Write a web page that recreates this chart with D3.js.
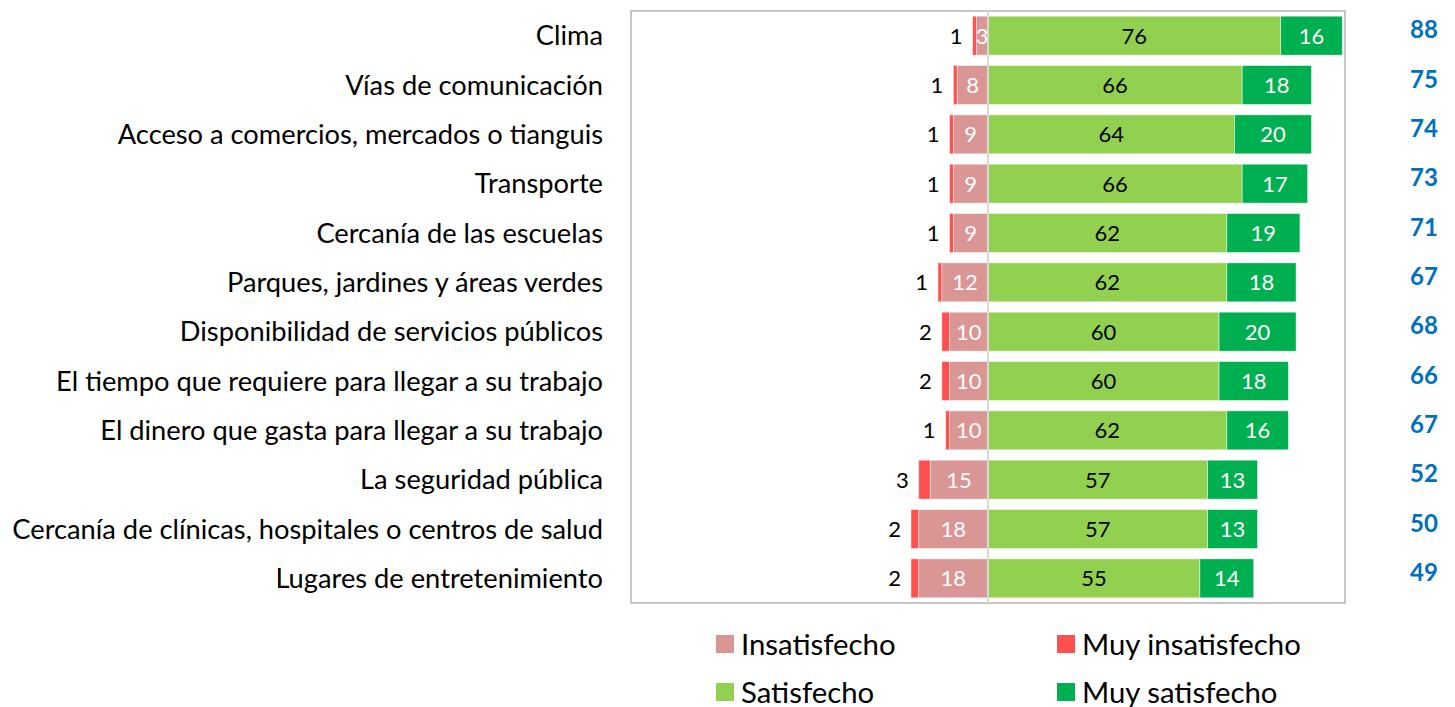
<!DOCTYPE html>
<html>
<head>
<meta charset="utf-8">
<script src="https://cdn.jsdelivr.net/npm/d3@7"></script>
<style>
  body { margin: 0; background: #fff; }
  text { font-family: Lato, "Noto Sans", sans-serif; }
</style>
</head>
<body>
<div id="chart"></div>
<script>
// data
var categories = [
  "Clima",
  "Vías de comunicación",
  "Acceso a comercios, mercados o tianguis",
  "Transporte",
  "Cercanía de las escuelas",
  "Parques, jardines y áreas verdes",
  "Disponibilidad de servicios públicos",
  "El tiempo que requiere para llegar a su trabajo",
  "El dinero que gasta para llegar a su trabajo",
  "La seguridad pública",
  "Cercanía de clínicas, hospitales o centros de salud",
  "Lugares de entretenimiento"
];
var muyInsatisfecho = [1, 1, 1, 1, 1, 1, 2, 2, 1, 3, 2, 2];
var insatisfecho    = [3, 8, 9, 9, 9, 12, 10, 10, 10, 15, 18, 18];
var satisfecho      = [76, 66, 64, 66, 62, 62, 60, 60, 62, 57, 57, 55];
var muySatisfecho   = [16, 18, 20, 17, 19, 18, 20, 18, 16, 13, 13, 14];
var totales         = [88, 75, 74, 73, 71, 67, 68, 66, 67, 52, 50, 49];
var legendLabels = ["Insatisfecho", "Muy insatisfecho", "Satisfecho", "Muy satisfecho"];

var colors = {
  mi: "#ff5050",
  i: "#da9694",
  s: "#92d050",
  ms: "#00b050"
};

var svgWidth = 1455, svgHeight = 707;
var margin = { top: 11, left: 631, right: 110, bottom: 104 };
var width = svgWidth - margin.left - margin.right;   // 714
var height = svgHeight - margin.top - margin.bottom; // 592

var svg = d3.select("#chart").append("svg")
  .attr("width", svgWidth)
  .attr("height", svgHeight);

var chartGroup = svg.append("g")
  .attr("transform", `translate(${margin.left}, ${margin.top})`);

var x = d3.scaleLinear().domain([-92.7, 92.7]).range([0, width]);
var y = d3.scaleBand().domain(categories).range([0, height]).paddingInner(0.21).paddingOuter(0.105);

// build stacked rows
var rows = categories.map((c, i) => ({
  cat: c,
  segs: [
    { key: "i",  x0: -insatisfecho[i], x1: 0, v: insatisfecho[i] },
    { key: "mi", x0: -insatisfecho[i] - muyInsatisfecho[i], x1: -insatisfecho[i], v: muyInsatisfecho[i] },
    { key: "s",  x0: 0, x1: satisfecho[i], v: satisfecho[i] },
    { key: "ms", x0: satisfecho[i], x1: satisfecho[i] + muySatisfecho[i], v: muySatisfecho[i] }
  ],
  total: totales[i]
}));

// plot border
chartGroup.append("rect")
  .attr("x", 0).attr("y", 0)
  .attr("width", width).attr("height", height)
  .attr("fill", "none")
  .attr("stroke", "#b4b4b4")
  .attr("stroke-width", 1.5);

var rowG = chartGroup.selectAll(".row")
  .data(rows)
  .join("g")
  .attr("class", "row")
  .attr("transform", d => `translate(0, ${y(d.cat)})`);

rowG.selectAll("rect")
  .data(d => d.segs)
  .join("rect")
  .attr("x", d => x(d.x0))
  .attr("y", 0)
  .attr("width", d => x(d.x1) - x(d.x0))
  .attr("height", y.bandwidth())
  .attr("fill", d => colors[d.key])
  .attr("stroke", "#ffffff")
  .attr("stroke-opacity", 0.6)
  .attr("stroke-width", 0.8);

// zero line
chartGroup.append("line")
  .attr("x1", x(0)).attr("x2", x(0))
  .attr("y1", 0).attr("y2", height)
  .attr("stroke", "#d9d9d9")
  .attr("stroke-width", 2);

// value labels
rowG.selectAll(".val")
  .data(d => d.segs)
  .join("text")
  .attr("class", "val")
  .attr("x", d => d.key === "mi" ? x(d.x0) - 10 : x((d.x0 + d.x1) / 2))
  .attr("y", y.bandwidth() / 2)
  .attr("dy", "0.36em")
  .attr("text-anchor", d => d.key === "mi" ? "end" : "middle")
  .attr("font-size", 22)
  .attr("fill", d => (d.key === "i" || d.key === "ms") ? "#ffffff" : "#000000")
  .text(d => d.v);

// totals on the right
rowG.append("text")
  .attr("x", width + 79)
  .attr("y", y.bandwidth() / 2 - 6)
  .attr("dy", "0.36em")
  .attr("text-anchor", "middle")
  .attr("font-size", 24)
  .attr("font-weight", "bold")
  .attr("fill", "#0070c0")
  .text(d => d.total);

// category labels
var catText = chartGroup.selectAll(".cat")
  .data(categories)
  .join("text")
  .attr("class", "cat")
  .attr("x", -28)
  .attr("y", d => y(d) + y.bandwidth() / 2)
  .attr("dy", "0.36em")
  .attr("text-anchor", "end")
  .attr("font-size", 24)
  .attr("fill", "#000")
  .text(d => d);

// shrink labels so the longest fits like the reference
var maxW = d3.max(catText.nodes(), n => n.getComputedTextLength());
var catSize = 24 * 591 / maxW;
catText.attr("font-size", catSize);

// legend
var legendPos = [
  { x: 716, y: 644 }, { x: 1057, y: 644 },
  { x: 716, y: 692 }, { x: 1057, y: 692 }
];
var legendColors = [colors.i, colors.mi, colors.s, colors.ms];
var legend = svg.selectAll(".legend")
  .data(legendLabels)
  .join("g")
  .attr("class", "legend")
  .attr("transform", (d, i) => `translate(${legendPos[i].x}, ${legendPos[i].y})`);

legend.append("rect")
  .attr("x", 0).attr("y", -9)
  .attr("width", 18).attr("height", 18)
  .attr("fill", (d, i) => legendColors[i]);

var legText = legend.append("text")
  .attr("x", 25)
  .attr("y", 0)
  .attr("dy", "0.36em")
  .attr("font-size", 26)
  .attr("fill", "#000")
  .text(d => d);

// match legend text width ("Muy insatisfecho" ~ 219px)
var legW = legText.filter(d => d === "Muy insatisfecho").node().getComputedTextLength();
legText.attr("font-size", 26 * 219 / legW);
</script>
</body>
</html>
